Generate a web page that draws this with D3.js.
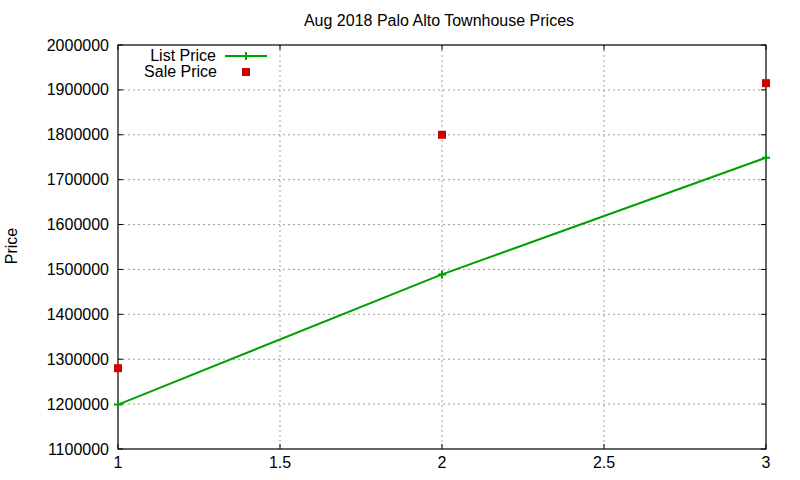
<!doctype html>
<html>
<head>
    <script src="https://d3js.org/d3.v7.min.js"></script>
    <style>
        body { margin: 0; background: #fff; }
        text { font-family: "Liberation Sans", Arial, sans-serif; fill: #000; font-size: 16px; }
        .grid line { stroke: #a0a0a0; stroke-dasharray: 2,3; stroke-width: 1; }
    </style>
</head>
<body>
    <svg width="800" height="480"></svg>
    <script>
        // data
        var xValues = [1, 2, 3];
        var listPrice = [1199000, 1489000, 1749000];
        var salePrice = [1280000, 1800000, 1915000];
        var xTicks = [1, 1.5, 2, 2.5, 3];
        var yTicks = [1100000, 1200000, 1300000, 1400000, 1500000, 1600000, 1700000, 1800000, 1900000, 2000000];

        var svg = d3.select("svg");
        var pLeft = 118, pRight = 766, pTop = 45, pBottom = 449;

        var x = d3.scaleLinear().domain([1, 3]).range([pLeft, pRight]);
        var y = d3.scaleLinear().domain([1100000, 2000000]).range([pBottom, pTop]);

        // grid
        var grid = svg.append("g").attr("class", "grid");
        grid.selectAll(".gx").data(xTicks.slice(1, -1)).enter().append("line")
            .attr("x1", d => x(d)).attr("x2", d => x(d))
            .attr("y1", pTop).attr("y2", pBottom);
        grid.selectAll(".gy").data(yTicks.slice(1, -1)).enter().append("line")
            .attr("x1", pLeft).attr("x2", pRight)
            .attr("y1", d => y(d)).attr("y2", d => y(d));

        // tick marks on all sides, pointing inwards
        var ticks = svg.append("g").attr("stroke", "#000").attr("stroke-width", 1);
        yTicks.forEach(function (t) {
            ticks.append("line").attr("x1", pLeft).attr("x2", pLeft + 5).attr("y1", y(t)).attr("y2", y(t));
            ticks.append("line").attr("x1", pRight).attr("x2", pRight - 5).attr("y1", y(t)).attr("y2", y(t));
        });
        xTicks.forEach(function (t) {
            ticks.append("line").attr("x1", x(t)).attr("x2", x(t)).attr("y1", pBottom).attr("y2", pBottom - 5);
            ticks.append("line").attr("x1", x(t)).attr("x2", x(t)).attr("y1", pTop).attr("y2", pTop + 5);
        });

        // tick labels
        svg.selectAll(".ylab").data(yTicks).enter().append("text")
            .attr("x", pLeft - 9).attr("y", d => y(d) + 5.5)
            .attr("text-anchor", "end")
            .text(d => d);
        svg.selectAll(".xlab").data(xTicks).enter().append("text")
            .attr("x", d => x(d)).attr("y", 468)
            .attr("text-anchor", "middle")
            .text(d => d);

        // frame
        svg.append("rect").attr("x", pLeft).attr("y", pTop)
            .attr("width", pRight - pLeft).attr("height", pBottom - pTop)
            .attr("fill", "none").attr("stroke", "#000").attr("stroke-width", 1.2);

        // list price line
        var pts = xValues.map((d, i) => [d, listPrice[i]]);
        svg.append("path").datum(pts)
            .attr("fill", "none").attr("stroke", "#00a000").attr("stroke-width", 2)
            .attr("d", d3.line().x(d => x(d[0])).y(d => y(d[1])));
        svg.selectAll(".plus").data(pts).enter().append("path")
            .attr("transform", d => "translate(" + x(d[0]) + "," + y(d[1]) + ")")
            .attr("d", "M-4,0H4M0,-4V4")
            .attr("stroke", "#00a000").attr("stroke-width", 2);

        // sale price points
        svg.selectAll(".sq").data(xValues).enter().append("rect")
            .attr("x", (d) => x(d) - 4).attr("y", (d, i) => y(salePrice[i]) - 4)
            .attr("width", 8).attr("height", 8)
            .attr("fill", "#cc0000");

        // legend
        svg.append("text").attr("x", 216).attr("y", 61).attr("text-anchor", "end").text("List Price");
        svg.append("line").attr("x1", 225).attr("x2", 267).attr("y1", 56).attr("y2", 56)
            .attr("stroke", "#00a000").attr("stroke-width", 2);
        svg.append("path").attr("transform", "translate(246,56)").attr("d", "M-4,0H4M0,-4V4")
            .attr("stroke", "#00a000").attr("stroke-width", 2);
        svg.append("text").attr("x", 217).attr("y", 77).attr("text-anchor", "end").text("Sale Price");
        svg.append("rect").attr("x", 242).attr("y", 68).attr("width", 8).attr("height", 8)
            .attr("fill", "#cc0000");

        // title and axis label
        svg.append("text").attr("x", 439).attr("y", 26).attr("text-anchor", "middle")
            .text("Aug 2018 Palo Alto Townhouse Prices");
        svg.append("text").attr("transform", "translate(17,246) rotate(-90)")
            .attr("text-anchor", "middle").text("Price");
    </script>
</body>
</html>
